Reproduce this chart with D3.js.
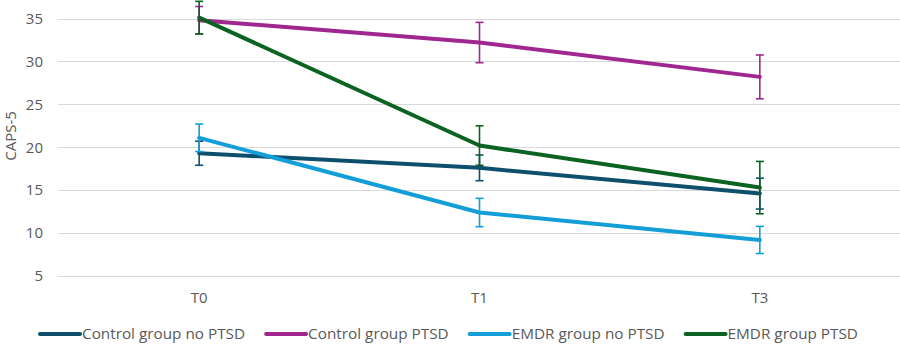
<!DOCTYPE html>
<html>
<head>
<meta charset="utf-8">
<script src="https://cdn.jsdelivr.net/npm/d3@7"></script>
<style>
  body { margin: 0; background: #fff; }
  svg { display: block; font-family: "Open Sans", "Noto Sans", sans-serif; }
</style>
</head>
<body>
<svg></svg>
<script>
// time points and y ticks
const timePoints = ["T0", "T1", "T3"];
const yTicks = [5, 10, 15, 20, 25, 30, 35];

// series means (CAPS-5) and error bar half-widths
const seriesNames = ["Control group no PTSD", "Control group PTSD", "EMDR group no PTSD", "EMDR group PTSD"];
const controlNoPtsd = [19.3, 17.6, 14.6];
const controlPtsd = [34.8, 32.2, 28.2];
const emdrNoPtsd = [21.1, 12.4, 9.2];
const emdrPtsd = [35.1, 20.2, 15.3];
const controlNoPtsdErr = [1.4, 1.5, 1.8];
const controlPtsdErr = [1.6, 2.35, 2.55];
const emdrNoPtsdErr = [1.6, 1.65, 1.58];
const emdrPtsdErr = [1.9, 2.3, 3.05];

const colours = ["#0e4f6d", "#a0278f", "#139ed8", "#0b6321"];

const width = 900, height = 346;
const svg = d3.select("svg")
  .attr("width", width)
  .attr("height", height);

const series = [
  { name: seriesNames[0], values: controlNoPtsd, err: controlNoPtsdErr, colour: colours[0] },
  { name: seriesNames[1], values: controlPtsd, err: controlPtsdErr, colour: colours[1] },
  { name: seriesNames[2], values: emdrNoPtsd, err: emdrNoPtsdErr, colour: colours[2] },
  { name: seriesNames[3], values: emdrPtsd, err: emdrPtsdErr, colour: colours[3] }
];

const x = d3.scaleBand()
  .domain(timePoints)
  .range([59, 900]);

const y = d3.scaleLinear()
  .domain([5, 35])
  .range([276, 18.5]);

const cx = t => x(t) + x.bandwidth() / 2;

// gridlines
svg.append("g")
  .selectAll("line")
  .data(yTicks)
  .join("line")
    .attr("x1", 58).attr("x2", width)
    .attr("y1", d => Math.round(y(d)) + 0.5)
    .attr("y2", d => Math.round(y(d)) + 0.5)
    .attr("stroke", "#d9d9d9")
    .attr("stroke-width", 1);

// y tick labels
svg.append("g")
  .selectAll("text")
  .data(yTicks)
  .join("text")
    .attr("x", 43)
    .attr("y", d => y(d))
    .attr("dy", "0.35em")
    .attr("text-anchor", "end")
    .attr("font-size", 15)
    .attr("fill", "#595959")
    .text(d => d);

// y axis title
svg.append("text")
  .attr("transform", `translate(16,136) rotate(-90)`)
  .attr("text-anchor", "middle")
  .attr("font-size", 15)
  .attr("fill", "#595959")
  .text("CAPS-5");

// x tick labels
svg.append("g")
  .selectAll("text")
  .data(timePoints)
  .join("text")
    .attr("x", d => cx(d))
    .attr("y", 298)
    .attr("dy", "0.35em")
    .attr("text-anchor", "middle")
    .attr("font-size", 15)
    .attr("fill", "#595959")
    .text(d => d);

// lines
const line = d3.line()
  .x((d, i) => cx(timePoints[i]))
  .y(d => y(d));

svg.append("g")
  .selectAll("path")
  .data(series)
  .join("path")
    .attr("d", d => line(d.values))
    .attr("fill", "none")
    .attr("stroke", d => d.colour)
    .attr("stroke-width", 4)
    .attr("stroke-linejoin", "round")
    .attr("stroke-linecap", "round");

// error bars
const bars = svg.append("g")
  .selectAll("g")
  .data(series)
  .join("g")
    .attr("stroke", d => d.colour)
    .attr("stroke-width", 1.6);

bars.each(function(s) {
  const g = d3.select(this);
  s.values.forEach((v, i) => {
    const px = cx(timePoints[i]);
    const top = y(v + s.err[i]), bot = y(v - s.err[i]);
    g.append("line").attr("x1", px).attr("x2", px).attr("y1", top).attr("y2", bot);
    g.append("line").attr("x1", px - 4).attr("x2", px + 4).attr("y1", top).attr("y2", top);
    g.append("line").attr("x1", px - 4).attr("x2", px + 4).attr("y1", bot).attr("y2", bot);
  });
});

// legend
const legend = svg.append("g").attr("transform", "translate(0,334)");
let lx = 40;
series.forEach(s => {
  const item = legend.append("g").attr("transform", `translate(${lx},0)`);
  item.append("line")
    .attr("x1", 0).attr("x2", 40)
    .attr("stroke", s.colour)
    .attr("stroke-width", 4)
    .attr("stroke-linecap", "round");
  const t = item.append("text")
    .attr("x", 42)
    .attr("dy", "0.35em")
    .attr("font-size", 15.3)
    .attr("fill", "#595959")
    .text(s.name);
  lx += 42 + t.node().getComputedTextLength() + 21;
});
</script>
</body>
</html>
